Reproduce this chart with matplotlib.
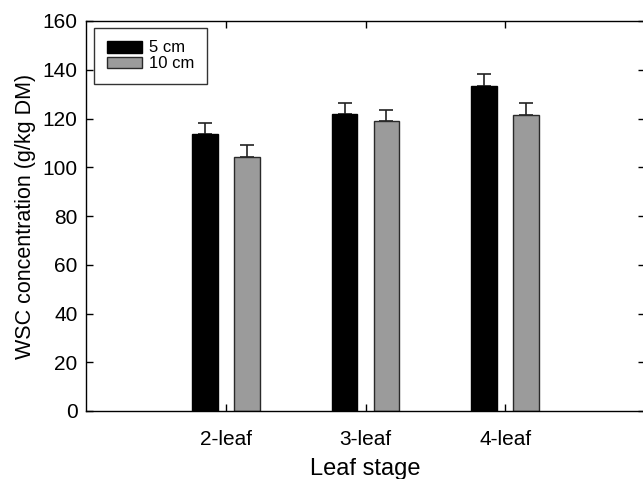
import numpy as np
import matplotlib
matplotlib.use("Agg")
import matplotlib.pyplot as plt

plt.rcParams["font.family"] = ["Liberation Sans", "DejaVu Sans"]

stages = ["2-leaf", "3-leaf", "4-leaf"]
wsc_5cm = [113.5, 121.7, 133.3]
err_5cm = [4.7, 4.7, 4.8]
wsc_10cm = [104.2, 119.0, 121.4]
err_10cm = [4.9, 4.6, 5.0]

fig = plt.figure(figsize=(6.43, 4.79), dpi=100)
# axes box in pixels: left 86, right 645 (just past the edge), top 21, bottom 411
ax = fig.add_axes([86 / 643, 1 - 411 / 479, 559 / 643, 390 / 479])

x = np.arange(1, len(stages) + 1)
w = 0.185
off = 0.15
ax.bar(x - off, wsc_5cm, w, color="black", edgecolor="black", linewidth=1,
       label="5 cm", zorder=2)
ax.bar(x + off, wsc_10cm, w, color="#9b9b9b", edgecolor="#2a2a2a", linewidth=1,
       label="10 cm", zorder=2)
ax.errorbar(x - off, wsc_5cm, yerr=[np.zeros(3), err_5cm], fmt="none",
            ecolor="#222222", elinewidth=1.2, capsize=5, capthick=1.2, zorder=1)
ax.errorbar(x + off, wsc_10cm, yerr=[np.zeros(3), err_10cm], fmt="none",
            ecolor="#222222", elinewidth=1.2, capsize=5, capthick=1.2, zorder=1)

ax.set_xlim(0, 4)
ax.set_ylim(0, 160)
ax.set_yticks(np.arange(0, 161, 20))
ax.set_xticks(x)
ax.set_xticklabels(stages)
ax.tick_params(direction="in", top=True, right=True, length=5, width=1,
               labelsize=15)
ax.tick_params(axis="y", pad=6)
ax.tick_params(axis="x", pad=14)
for s in ax.spines.values():
    s.set_linewidth(1)

ax.set_xlabel("Leaf stage", fontsize=17, labelpad=6)
ax.set_ylabel("WSC concentration (g/kg DM)", fontsize=15.5, labelpad=5)

leg = ax.legend(loc="upper left", bbox_to_anchor=(8 / 559, 1 - 7 / 390),
                borderaxespad=0, fontsize=12, frameon=True, fancybox=False,
                edgecolor="black", handlelength=2.15, handleheight=0.7,
                handletextpad=0.42, borderpad=0.75, labelspacing=0.05)
leg.get_frame().set_linewidth(1)

fig.savefig("out.png", dpi=100)
